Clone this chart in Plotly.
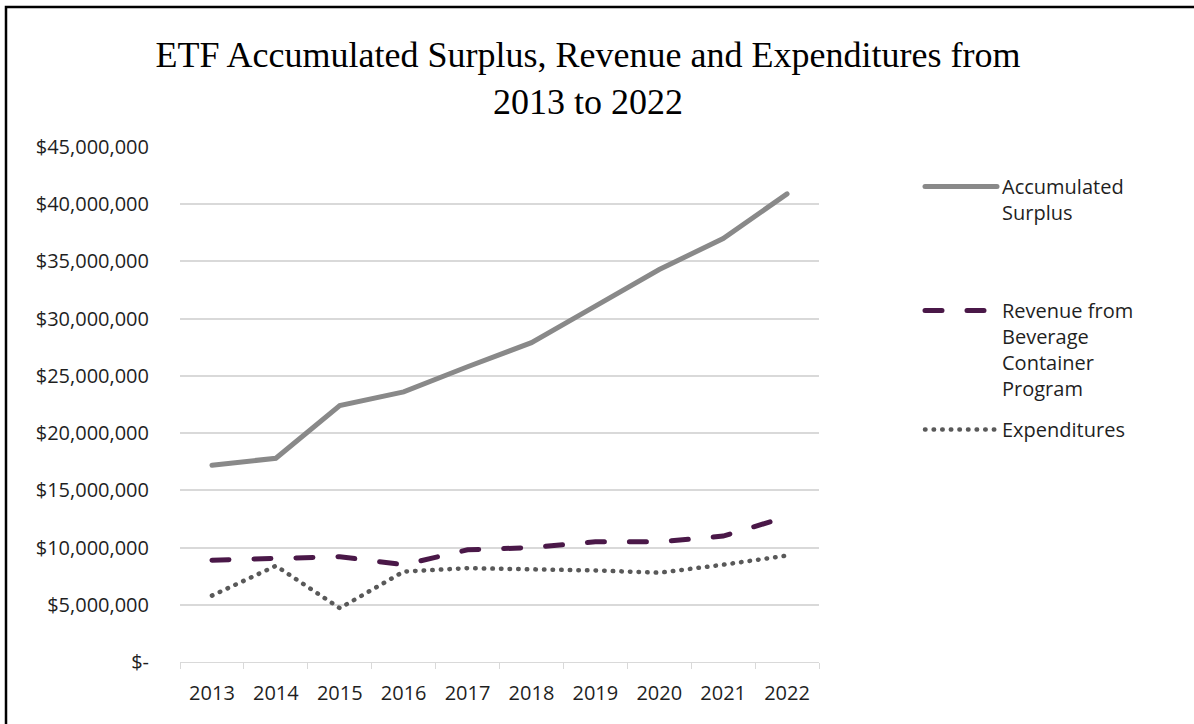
import plotly.graph_objects as go

# Fiscal years and fund values (dollars)
years = ["2013", "2014", "2015", "2016", "2017", "2018", "2019", "2020", "2021", "2022"]
accumulated_surplus = [17_200_000, 17_800_000, 22_400_000, 23_600_000, 25_800_000,
                       27_900_000, 31_100_000, 34_300_000, 37_000_000, 40_900_000]
beverage_revenue = [8_900_000, 9_000_000, 9_200_000, 8_500_000, 9_800_000,
                    10_000_000, 10_500_000, 10_500_000, 11_000_000, 12_700_000]
expenditures = [5_800_000, 8_400_000, 4_700_000, 7_900_000, 8_200_000,
                8_100_000, 8_000_000, 7_800_000, 8_500_000, 9_300_000]

# Y-axis ticks in accounting style
y_tick_values = [0, 5_000_000, 10_000_000, 15_000_000, 20_000_000,
                 25_000_000, 30_000_000, 35_000_000, 40_000_000, 45_000_000]
y_tick_labels = ["$-", "$5,000,000", "$10,000,000", "$15,000,000", "$20,000,000",
                 "$25,000,000", "$30,000,000", "$35,000,000", "$40,000,000", "$45,000,000"]

W, H = 1194, 724
L, R, T, B = 180, 819, 147, 662          # plot-area edges in pixels
PW, PH = R - L, B - T

def px_x(p):
    return (p - L) / PW

def px_y(p):
    return (B - p) / PH

label_font = dict(family="Open Sans", size=20, color="#1f1f1f")
grid = "#d9d9d9"

fig = go.Figure()
fig.add_trace(go.Scatter(
    x=years, y=accumulated_surplus, mode="lines",
    name="Accumulated<br>Surplus",
    line=dict(color="#898989", width=5),
    legend="legend",
))
fig.add_trace(go.Scatter(
    x=years, y=beverage_revenue, mode="lines",
    name="Revenue from<br>Beverage<br>Container<br>Program",
    line=dict(color="#4a1848", width=5, dash="17px,25px"),
    legend="legend2",
))
fig.add_trace(go.Scatter(
    x=years, y=expenditures, mode="lines",
    name="Expenditures",
    line=dict(color="#595959", width=4.5, dash="0.5px,8.1px"),
    legend="legend3",
))

legend_common = dict(
    xref="paper", yref="paper", xanchor="left", yanchor="top",
    font=label_font, itemwidth=72, valign="top",
    bgcolor="rgba(0,0,0,0)", borderwidth=0,
)

fig.update_layout(
    width=W, height=H, autosize=False,
    margin=dict(l=L, r=W - R, t=T, b=H - B, pad=0),
    paper_bgcolor="white", plot_bgcolor="white",
    title=dict(
        text="ETF Accumulated Surplus, Revenue and Expenditures from<br>2013 to 2022",
        font=dict(family="Liberation Serif", size=36, color="black"),
        x=588 / W, xanchor="center", xref="container",
        y=1 - 67 / H, yanchor="top", yref="container",
    ),
    xaxis=dict(
        type="category", range=[-0.5, len(years) - 0.5],
        showgrid=False, showline=True, linecolor=grid, linewidth=1,
        ticks="outside", tickson="boundaries", ticklen=6, tickcolor=grid, tickwidth=1,
        tickfont=label_font, ticklabelstandoff=13, zeroline=False,
    ),
    yaxis=dict(
        range=[0, 45_000_000], tickvals=y_tick_values, ticktext=y_tick_labels,
        showgrid=True, gridcolor=grid, gridwidth=1.5, zeroline=False,
        showline=False, ticks="", tickfont=label_font, ticklabelstandoff=30,
    ),
    legend=dict(x=px_x(920), y=px_y(167), **legend_common),
    legend2=dict(x=px_x(920), y=px_y(291), **legend_common),
    legend3=dict(x=px_x(920), y=px_y(410), **legend_common),
    shapes=[dict(
        type="rect", xref="paper", yref="paper",
        x0=px_x(6), x1=px_x(W + 20), y0=px_y(H + 20), y1=px_y(7),
        line=dict(color="black", width=2.5), fillcolor="rgba(0,0,0,0)",
        layer="above",
    )],
    showlegend=True,
)

# Round line caps on the series strokes and legend swatches
round_caps = """
var gd = document.getElementById('{plot_id}');
function roundCaps() {
  gd.querySelectorAll('path.js-line').forEach(function (p) {
    p.style.strokeLinecap = 'round';
  });
}
roundCaps();
gd.on('plotly_afterplot', roundCaps);
"""

fig.write_html("out.html", post_script=round_caps)
